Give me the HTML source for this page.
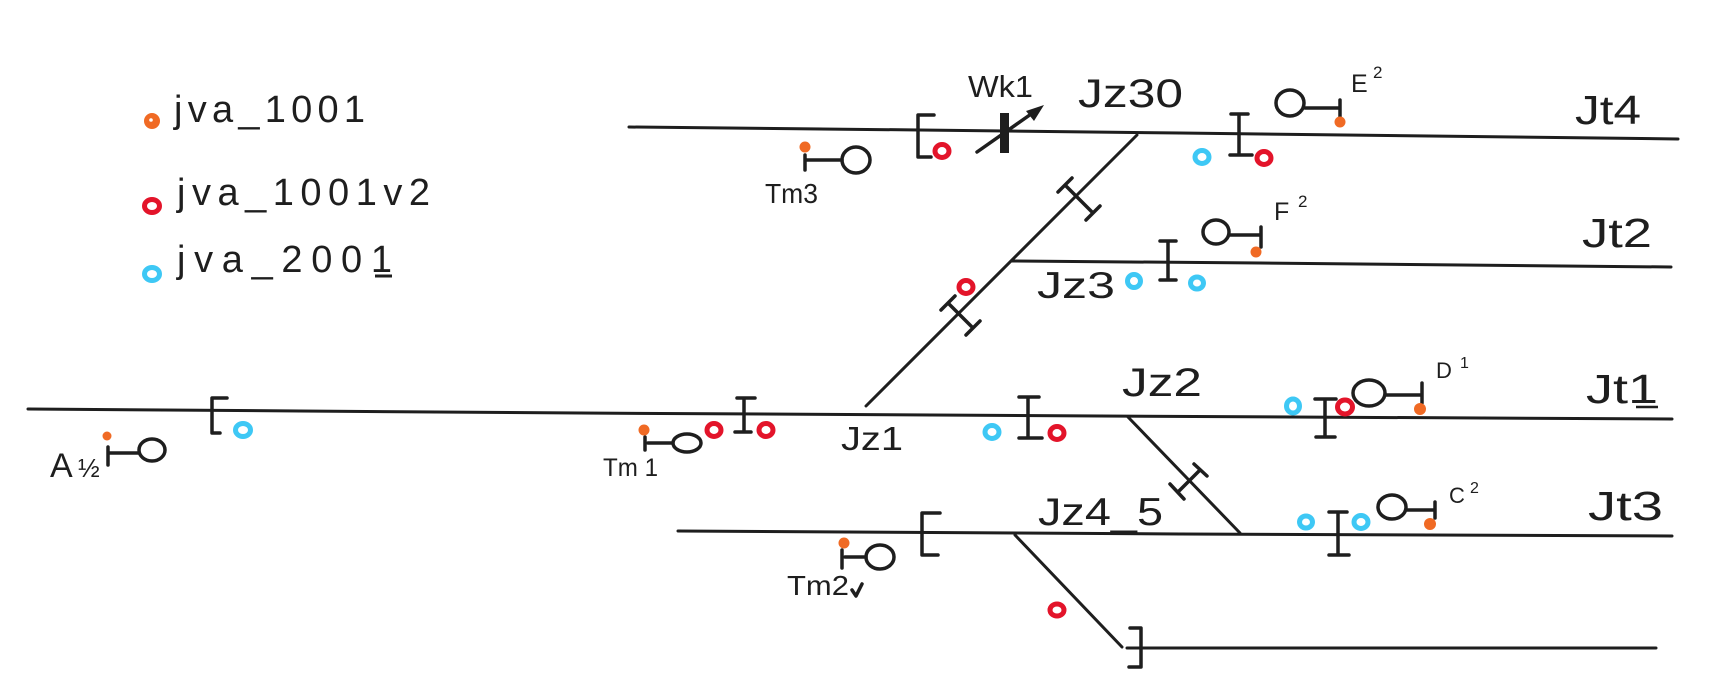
<!DOCTYPE html>
<html><head><meta charset="utf-8">
<style>
html,body{margin:0;padding:0;background:#fff;}
svg{display:block;}
text{font-family:"Liberation Sans",sans-serif;fill:#1e1e1e;}
</style></head><body>
<svg width="1729" height="682" viewBox="0 0 1729 682" xmlns="http://www.w3.org/2000/svg">
<rect width="1729" height="682" fill="#fff"/>
<!-- tracks -->
<g fill="none" stroke="#1e1e1e" stroke-width="3" stroke-linecap="round" stroke-linejoin="round">
<polyline points="28,409 300,411 580,413 1100,416 1672,419"/>
<polyline points="629,127 920,130 1180,133 1678,139"/>
<line x1="866" y1="406" x2="1137" y2="135"/>
<polyline points="1012,261 1260,263 1671,267"/>
<line x1="1128" y1="417" x2="1240" y2="533"/>
<polyline points="678,531 1180,534 1672,536"/>
<line x1="1015" y1="535" x2="1122" y2="647"/>
<line x1="1127" y1="648" x2="1656" y2="648"/>
</g>

<!-- brackets, joints, signals -->
<g fill="none" stroke="#1e1e1e" stroke-width="3.5" stroke-linecap="round" stroke-linejoin="round">
<path d="M227,398 H212 V433 H220"/>
<path d="M934,115 H918 V157 H931"/>
<path d="M940,513 H922 V555 H938"/>
<path d="M1130,628 H1141 V667 H1129"/>
<path d="M744,398 V432 M737,398 H755 M735,432 H751"/>
<path d="M1028,397 V438 M1019,397 H1039 M1019,438 H1042"/>
<path d="M1239,114 V155 M1231,114 H1248 M1230,155 H1252"/>
<path d="M1168,241 V280 M1160,241 H1176 M1160,280 H1176"/>
<path d="M1325,399 V437 M1315,399 H1336 M1316,437 H1335"/>
<path d="M1338,512 V555 M1329,512 H1347 M1329,555 H1349"/>
<path d="M1065,185 L1093,213 M1058,192 L1072,178 M1086,220 L1100,206"/>
<path d="M948,303 L973,328 M941,310 L955,296 M966,335 L980,321"/>
<path d="M1178,492 L1200,470 M1170,484 L1184,499 M1194,464 L1207,476"/>
<path d="M108,447 V465 M108,453 H138"/>
<ellipse cx="152" cy="450" rx="13" ry="11"/>
<path d="M645,437 V450 M648,443 H672"/>
<ellipse cx="687" cy="443" rx="14" ry="9"/>
<path d="M805,155 V170 M807,160 H842"/>
<ellipse cx="856" cy="160" rx="14" ry="13"/>
<path d="M842,550 V568 M845,557 H866"/>
<ellipse cx="880" cy="557" rx="14" ry="12"/>
<ellipse cx="1290" cy="103" rx="14" ry="13"/>
<path d="M1305,108 H1340 M1340,100 V117"/>
<ellipse cx="1216" cy="232" rx="13" ry="12"/>
<path d="M1229,235 H1261 M1261,227 V247"/>
<ellipse cx="1369" cy="393" rx="16" ry="13"/>
<path d="M1386,395 H1422 M1422,383 V403"/>
<ellipse cx="1392" cy="507" rx="14" ry="12"/>
<path d="M1406,510 H1435 M1435,502 V518"/>
<line x1="977" y1="152" x2="1034" y2="112"/>
<path d="M852,590 L856,596 L862,584"/>
</g>
<rect x="1000" y="113" width="9" height="40" fill="#1e1e1e"/>
<polygon points="1044,105 1026,111 1034,121" fill="#1e1e1e"/>

<!-- orange dots -->
<g fill="#f06a24">
<circle cx="107" cy="436" r="4.5"/>
<circle cx="644" cy="430" r="5.5"/>
<circle cx="805" cy="147" r="5.5"/>
<circle cx="844" cy="543" r="5.5"/>
<circle cx="1340" cy="122" r="5.5"/>
<circle cx="1256" cy="252" r="5.5"/>
<circle cx="1420" cy="409" r="6"/>
<circle cx="1430" cy="524" r="6"/>
<circle cx="152" cy="121" r="8"/>
</g>
<circle cx="151" cy="120" r="1.8" fill="#fff"/>

<!-- red rings -->
<g fill="none" stroke="#e3142a" stroke-width="5">
<ellipse cx="942" cy="151" rx="7" ry="6.5"/>
<ellipse cx="1264" cy="158" rx="7" ry="6.5"/>
<ellipse cx="966" cy="287" rx="7" ry="6.5"/>
<ellipse cx="714" cy="430" rx="7" ry="6.5"/>
<ellipse cx="766" cy="430" rx="7" ry="6.5"/>
<ellipse cx="1057" cy="433" rx="7" ry="6.5"/>
<ellipse cx="1345" cy="407" rx="7.5" ry="7"/>
<ellipse cx="1057" cy="610" rx="7" ry="6"/>
<ellipse cx="152" cy="206" rx="7.5" ry="6.5"/>
</g>
<!-- blue rings -->
<g fill="none" stroke="#3ec8f5" stroke-width="5">
<ellipse cx="243" cy="430" rx="7.5" ry="6.5"/>
<ellipse cx="992" cy="432" rx="7" ry="6.5"/>
<ellipse cx="1202" cy="157" rx="7" ry="6.5"/>
<ellipse cx="1134" cy="281" rx="6.5" ry="6.5"/>
<ellipse cx="1197" cy="283" rx="6.5" ry="6"/>
<ellipse cx="1293" cy="406" rx="6.5" ry="7"/>
<ellipse cx="1306" cy="522" rx="6.5" ry="6"/>
<ellipse cx="1361" cy="522" rx="7" ry="6.5"/>
<ellipse cx="152" cy="274" rx="7.5" ry="6.5"/>
</g>

<!-- legend -->
<text x="174" y="122" font-size="38" textLength="191" lengthAdjust="spacing">jva_1001</text>
<text x="177" y="205" font-size="38" textLength="253" lengthAdjust="spacing">jva_1001v2</text>
<text x="177" y="272" font-size="38" textLength="215" lengthAdjust="spacing">jva_2001</text>
<line x1="375" y1="276" x2="392" y2="276" stroke="#1e1e1e" stroke-width="3"/>

<!-- labels -->
<text x="968" y="97" font-size="31" textLength="65" lengthAdjust="spacingAndGlyphs">Wk1</text>
<text x="1078" y="107" font-size="40" textLength="105" lengthAdjust="spacingAndGlyphs">Jz30</text>
<text x="1575" y="124" font-size="41" textLength="66" lengthAdjust="spacingAndGlyphs">Jt4</text>
<text x="1582" y="247" font-size="41" textLength="70" lengthAdjust="spacingAndGlyphs">Jt2</text>
<text x="1586" y="403" font-size="41" textLength="72" lengthAdjust="spacingAndGlyphs">Jt1</text>
<line x1="1636" y1="407" x2="1658" y2="407" stroke="#1e1e1e" stroke-width="2.5"/>
<text x="1588" y="520" font-size="41" textLength="75" lengthAdjust="spacingAndGlyphs">Jt3</text>
<text x="1122" y="396" font-size="40" textLength="80" lengthAdjust="spacingAndGlyphs">Jz2</text>
<text x="841" y="450" font-size="33" textLength="62" lengthAdjust="spacingAndGlyphs">Jz1</text>
<text x="1037" y="298" font-size="37" textLength="78" lengthAdjust="spacingAndGlyphs">Jz3</text>
<text x="1038" y="525" font-size="39" textLength="125" lengthAdjust="spacingAndGlyphs">Jz4_5</text>
<text x="603" y="476" font-size="25" textLength="55" lengthAdjust="spacingAndGlyphs">Tm 1</text>
<text x="765" y="203" font-size="28" textLength="53" lengthAdjust="spacingAndGlyphs">Tm3</text>
<text x="787" y="595" font-size="28" textLength="62" lengthAdjust="spacingAndGlyphs">Tm2</text>
<text x="50" y="477" font-size="34">A</text>
<text x="78" y="477" font-size="26">½</text>
<text x="1351" y="92" font-size="25">E</text>
<text x="1373" y="78" font-size="17">2</text>
<text x="1274" y="220" font-size="25">F</text>
<text x="1298" y="207" font-size="17">2</text>
<text x="1436" y="378" font-size="22">D</text>
<text x="1460" y="368" font-size="16">1</text>
<text x="1449" y="503" font-size="22">C</text>
<text x="1470" y="493" font-size="16">2</text>
</svg>
</body></html>
